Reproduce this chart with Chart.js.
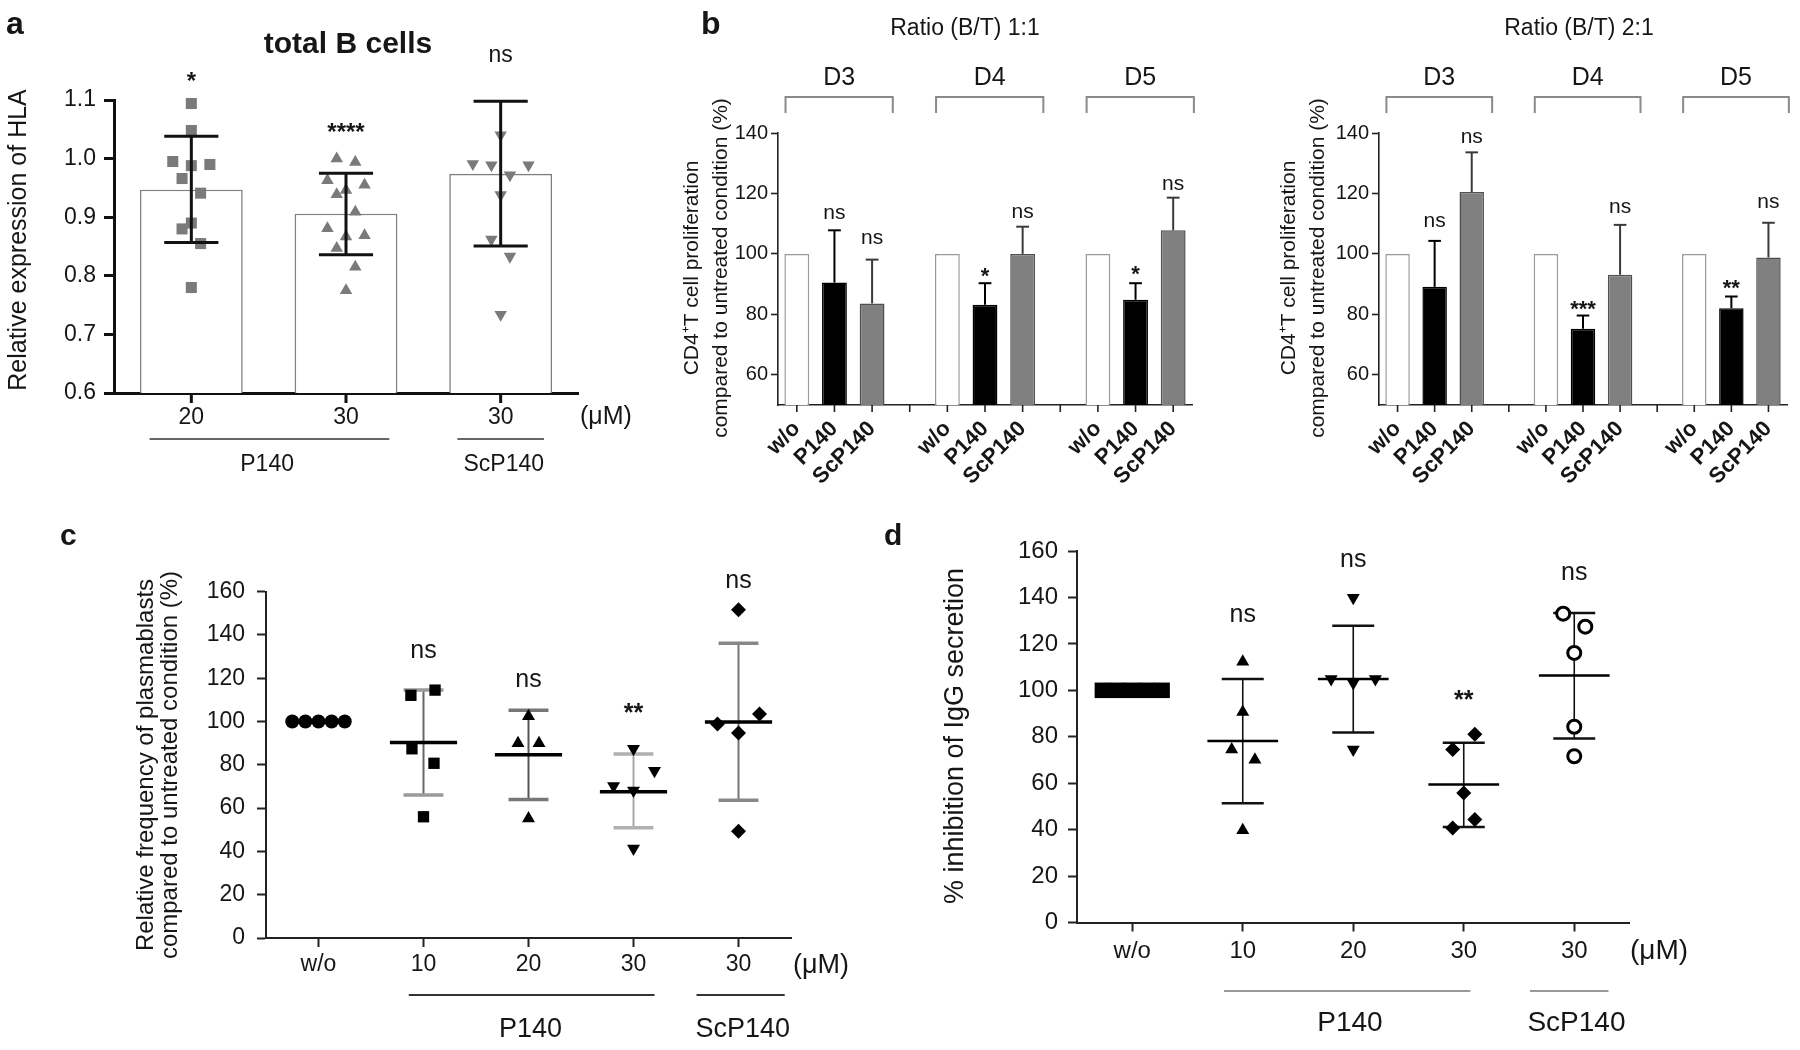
<!DOCTYPE html>
<html>
<head>
<meta charset="utf-8">
<script src="https://cdn.jsdelivr.net/npm/chart.js@4.4.1/dist/chart.umd.min.js"></script>
<style>
  html, body { margin: 0; padding: 0; background: #fff; }
  body { width: 1800px; height: 1050px; position: relative; overflow: hidden; }
  canvas { position: absolute; }
</style>
</head>
<body>
<canvas id="chartA" width="640" height="500" style="left:0;top:0"></canvas>
<canvas id="chartB1" width="580" height="500" style="left:640px;top:0"></canvas>
<canvas id="chartB2" width="580" height="500" style="left:1220px;top:0"></canvas>
<canvas id="chartC" width="870" height="540" style="left:0;top:510px"></canvas>
<canvas id="chartD" width="930" height="540" style="left:870px;top:510px"></canvas>
<script>
const FONT = '"Liberation Sans", Arial, Helvetica, sans-serif';
const INK = '#161616';

// ---------- panel a : HLA expression on total B cells ----------
const aDoses = ['20', '30', '30'];
const aMeans = [0.947, 0.906, 0.974];
const aSdLow = [0.857, 0.836, 0.851];
const aSdHigh = [1.038, 0.975, 1.098];
const aSig = ['*', '****', 'ns'];
const aSigY = [1.119, 1.031, 1.165];
const aYTicks = [0.6, 0.7, 0.8, 0.9, 1.0, 1.1];
const aP20 = [1.094, 1.048, 0.995, 0.988, 0.990, 0.966, 0.941, 0.890, 0.880, 0.855, 0.780];
const aP20Spread = [0, 0, -0.12, 0, 0.12, -0.06, 0.06, 0, -0.06, 0.06, 0];
const aP30 = [1.000, 0.994, 0.963, 0.955, 0.946, 0.939, 0.909, 0.881, 0.869, 0.867, 0.847, 0.815, 0.775];
const aP30Spread = [-0.06, 0.06, -0.12, 0.12, 0, -0.06, 0.06, -0.12, 0.12, 0, -0.06, 0.06, 0];
const aSc30 = [1.128, 1.128, 1.128, 1.040, 0.991, 0.989, 0.989, 0.972, 0.938, 0.862, 0.833, 0.734];
const aSc30Spread = [-0.12, 0, 0.12, 0, -0.18, -0.06, 0.18, 0.06, 0, -0.06, 0.06, 0];

// ---------- panel b : CD4+ T cell proliferation ----------
const bDays = ['D3', 'D4', 'D5'];
const bTreat = ['w/o', 'P140', 'ScP140'];
const bYTicks = [60, 80, 100, 120, 140];
const bUntreated = [100, 100, 100];
// ratio 1:1
const b1P140 = [90.5, 83.2, 84.8];
const b1P140Sd = [107.8, 90.3, 90.3];
const b1ScP = [83.6, 100.0, 107.8];
const b1ScPSd = [98.1, 109.0, 118.6];
const b1P140Sig = ['ns', '*', '*'];
const b1P140SigY = [111.4, 90.5, 91.1];
const b1ScPSig = ['ns', 'ns', 'ns'];
const b1ScPSigY = [103.4, 111.8, 121.3];
// ratio 2:1
const b2P140 = [89.1, 75.2, 82.0];
const b2P140Sd = [104.3, 79.6, 85.9];
const b2ScP = [120.5, 93.1, 98.8];
const b2ScPSd = [133.6, 109.6, 110.3];
const b2P140Sig = ['ns', '***', '**'];
const b2P140SigY = [108.9, 79.6, 86.3];
const b2ScPSig = ['ns', 'ns', 'ns'];
const b2ScPSigY = [136.7, 113.4, 115.1];

// ---------- panels c and d : shared dose axis ----------
const cdDoses = ['w/o', '10', '20', '30', '30'];
const cdYTicks = [0, 20, 40, 60, 80, 100, 120, 140, 160];

// panel c : plasmablast frequency
const cWo = [100, 100, 100, 100, 100];
const cWoSpread = [-0.25, -0.125, 0, 0.125, 0.25];
const cP10 = [112.1, 114.5, 87.4, 80.7, 56.0];
const cP10Spread = [-0.12, 0.11, -0.11, 0.1, 0];
const cP20 = [102.4, 90.0, 90.0, 55.2];
const cP20Spread = [0, -0.1, 0.1, 0];
const cP30 = [87.4, 77.2, 70.2, 68.1, 41.3];
const cP30Spread = [0, 0.2, -0.19, 0, 0];
const cSc30 = [151.6, 103.5, 98.8, 94.7, 49.3];
const cSc30Spread = [0, 0.2, -0.2, 0, 0];
const cMean = [90.3, 84.6, 67.6, 99.8];
const cSdLow = [66.0, 64.0, 50.9, 63.6];
const cSdHigh = [114.5, 105.2, 85.0, 136.1];
const cSig = ['ns', 'ns', '**', 'ns'];
const cSigY = [129.5, 116.0, 100.3, 161.6];

// panel d : IgG secretion
const dWo = [100, 100, 100, 100, 100];
const dWoSpread = [-0.27, -0.135, 0, 0.135, 0.27];
const dP10 = [112.3, 90.7, 74.5, 70.1, 39.7];
const dP10Spread = [0, 0, -0.1, 0.11, 0];
const dP20 = [139.9, 104.9, 103.1, 104.9, 74.5];
const dP20Spread = [0, -0.2, 0, 0.2, 0];
const dP30 = [81.1, 74.5, 55.8, 44.4, 40.7];
const dP30Spread = [0.1, -0.1, 0, 0.1, -0.1];
const dSc30 = [133.0, 127.4, 116.1, 84.3, 71.6];
const dSc30Spread = [-0.1, 0.1, 0, 0, 0];
const dMean = [78.2, 104.9, 59.4, 106.4];
const dSdLow = [51.4, 81.8, 41.1, 79.3];
const dSdHigh = [104.9, 127.8, 77.4, 133.3];
const dSig = ['ns', 'ns', '**', 'ns'];
const dSigY = [129.3, 153.1, 92.4, 147.5];

// ---------- drawing helpers ----------
const decorSpecs = {};

function drawStats(chart, s) {
  const ctx = chart.ctx, x = chart.scales.x, y = chart.scales.y;
  ctx.save();
  ctx.lineCap = 'butt';
  (s.errs || []).forEach(e => {
    const cx = x.getPixelForValue(e.x);
    const hw = x.getPixelForValue(e.x + e.cap) - cx;
    const top = y.getPixelForValue(e.hi), bot = y.getPixelForValue(e.lo);
    ctx.strokeStyle = e.color; ctx.lineWidth = e.width;
    ctx.beginPath(); ctx.moveTo(cx, bot); ctx.lineTo(cx, top); ctx.stroke();
    ctx.strokeStyle = e.capColor || e.color; ctx.lineWidth = e.capWidth || e.width;
    ctx.beginPath();
    ctx.moveTo(cx - hw, top); ctx.lineTo(cx + hw, top);
    if (!e.oneSided) { ctx.moveTo(cx - hw, bot); ctx.lineTo(cx + hw, bot); }
    ctx.stroke();
  });
  (s.means || []).forEach(m => {
    const cx = x.getPixelForValue(m.x);
    const hw = x.getPixelForValue(m.x + m.half) - cx;
    const py = y.getPixelForValue(m.y);
    ctx.strokeStyle = m.color; ctx.lineWidth = m.width;
    ctx.beginPath(); ctx.moveTo(cx - hw, py); ctx.lineTo(cx + hw, py); ctx.stroke();
  });
  ctx.restore();
}

function drawLabels(chart, s) {
  const ctx = chart.ctx, x = chart.scales.x, y = chart.scales.y;
  ctx.save();
  if (s.xMarks) {
    // tick marks under each x tick (bar charts shift their own grid ticks)
    ctx.strokeStyle = s.xMarks.color; ctx.lineWidth = s.xMarks.width;
    ctx.beginPath();
    x.ticks.forEach(t => {
      const px = x.getPixelForValue(t.value);
      ctx.moveTo(px, x.top); ctx.lineTo(px, x.top + s.xMarks.len);
    });
    ctx.stroke();
  }
  (s.paths || []).forEach(p => {
    ctx.strokeStyle = p.color; ctx.lineWidth = p.width;
    ctx.beginPath();
    p.pts.forEach((pt, i) => {
      const px = x.getPixelForValue(pt[0]);
      if (i) ctx.lineTo(px, pt[1]); else ctx.moveTo(px, pt[1]);
    });
    ctx.stroke();
  });
  (s.texts || []).forEach(t => {
    const px = t.xv !== undefined ? x.getPixelForValue(t.xv) : t.x;
    const py = t.yv !== undefined ? y.getPixelForValue(t.yv) : t.y;
    ctx.save();
    ctx.font = t.font; ctx.fillStyle = t.color || INK;
    ctx.textAlign = t.align || 'center';
    ctx.textBaseline = t.base || 'alphabetic';
    ctx.translate(px, py);
    if (t.rot) ctx.rotate(t.rot * Math.PI / 180);
    ctx.fillText(t.text, 0, 0);
    ctx.restore();
  });
  ctx.restore();
}

Chart.register({
  id: 'decor',
  beforeDatasetsDraw(chart) { const s = decorSpecs[chart.canvas.id]; if (s && s.under) drawStats(chart, s); },
  afterDatasetsDraw(chart) { const s = decorSpecs[chart.canvas.id]; if (s && !s.under) drawStats(chart, s); },
  afterDraw(chart) { const s = decorSpecs[chart.canvas.id]; if (s) drawLabels(chart, s); }
});

function f(size, weight) { return (weight ? weight + ' ' : '') + size + 'px ' + FONT; }

function pts(center, vals, spread) {
  return vals.map((v, i) => ({ x: center + spread[i], y: v }));
}

// common axis setup; the chart area is pinned with padding + fixed axis sizes
function axes(o) {
  return {
    x: {
      type: 'linear', min: o.xmin, max: o.xmax, offset: false,
      afterBuildTicks: s => { s.ticks = o.xticks.map(v => ({ value: v })); },
      afterFit: s => { s.height = o.xh; s.paddingLeft = 0; s.paddingRight = 0; },
      ticks: {
        autoSkip: false, color: INK, padding: o.xpad,
        font: { family: FONT, size: o.xfont, weight: o.xweight || 'normal' },
        minRotation: o.xrot || 0, maxRotation: o.xrot || 0,
        callback: (v, i) => o.xlabels[i]
      },
      grid: {
        display: !o.ownXMarks, offset: false, drawOnChartArea: false, drawTicks: true, tickLength: o.tick,
        tickWidth: o.axisW, tickColor: o.axisC
      },
      border: { display: true, color: o.axisC, width: o.axisW }
    },
    y: {
      type: 'linear', min: o.ymin, max: o.ymax,
      afterBuildTicks: s => { s.ticks = o.yticks.map(v => ({ value: v })); },
      afterFit: s => { s.width = o.yw; s.paddingTop = 0; s.paddingBottom = 0; },
      ticks: {
        color: INK, padding: o.ypad,
        font: { family: FONT, size: o.yfont },
        callback: o.yfmt || (v => String(v))
      },
      grid: { display: true, offset: false, drawOnChartArea: false, drawTicks: true, tickLength: o.tick, tickWidth: o.axisW, tickColor: o.axisC },
      border: { display: true, color: o.axisC, width: o.axisW }
    }
  };
}

function baseOpts(o) {
  return {
    responsive: false, animation: false, devicePixelRatio: 1,
    layout: { padding: { top: o.top, right: o.right, bottom: 0, left: 0 } },
    plugins: { legend: { display: false }, tooltip: { enabled: false }, title: { display: false } },
    scales: axes(o)
  };
}

function scatterSet(data, style, radius, extra) {
  return Object.assign({
    type: 'scatter', data: data, pointStyle: style, pointRadius: radius,
    backgroundColor: '#000', borderColor: '#000', borderWidth: 0, clip: false, order: 1
  }, extra || {});
}

// ---------- chart a ----------
decorSpecs.chartA = {
  under: false,
  xMarks: { len: 10, width: 3, color: '#111' },
  errs: aMeans.map((m, i) => ({ x: i, lo: aSdLow[i], hi: aSdHigh[i], cap: 0.175, color: '#111', width: 3 })),
  paths: [
    { color: '#666', width: 2, pts: [[-0.27, 439], [1.28, 439]] },
    { color: '#666', width: 2, pts: [[1.72, 439], [2.28, 439]] }
  ],
  texts: [
    { text: 'a', x: 6, y: 34, font: f(32, 'bold'), align: 'left' },
    { text: 'total B cells', x: 348, y: 53, font: f(30, 'bold') },
    { text: 'Relative expression of HLA', x: 19, y: 240, rot: -90, base: 'middle', font: f(25) },
    { text: '(\u03bcM)', x: 580, y: 417, align: 'left', base: 'middle', font: f(25) },
    { text: 'P140', xv: 0.49, y: 465, base: 'middle', font: f(23) },
    { text: 'ScP140', xv: 2.02, y: 465, base: 'middle', font: f(23) }
  ].concat(aSig.map((t, i) => ({ text: t, xv: i, yv: aSigY[i], font: t === 'ns' ? f(23) : f(24, 'bold') })))
};

new Chart(document.getElementById('chartA'), {
  type: 'bar',
  data: {
    datasets: [
      scatterSet(pts(0, aP20, aP20Spread), 'rect', 7.8, { backgroundColor: '#7a7a7a' }),
      scatterSet(pts(1, aP30, aP30Spread), 'triangle', 7.2, { backgroundColor: '#7a7a7a' }),
      scatterSet(pts(2, aSc30, aSc30Spread), 'triangle', 7.2, { backgroundColor: '#7a7a7a', pointRotation: 180 }),
      {
        type: 'bar', data: aMeans.map((v, i) => ({ x: i, y: v })),
        backgroundColor: '#fff', borderColor: '#808080', borderWidth: 1.6,
        barPercentage: 0.665, categoryPercentage: 1, order: 10
      }
    ]
  },
  options: baseOpts({
    top: 100, right: 62, xh: 107, yw: 114, ownXMarks: true,
    xmin: -0.5, xmax: 2.5, xticks: [0, 1, 2], xlabels: aDoses, xfont: 23, xpad: 1,
    ymin: 0.6, ymax: 1.1, yticks: aYTicks, yfont: 23, ypad: 8, yfmt: v => v.toFixed(1),
    tick: 10, axisW: 3, axisC: '#111'
  })
});

// ---------- charts b ----------
function makeB(id, title, p, pSd, s, sSd, pSig, pSigY, sSig, sSigY, lay) {
  const slots = [];
  const labels = [];
  bDays.forEach((d, k) => {
    bTreat.forEach(t => labels.push(t));
    if (k < bDays.length - 1) labels.push('');
  });
  const barX = [], barY = [], fill = [], edge = [];
  bDays.forEach((d, k) => {
    const base = k * 4;
    [bUntreated[k], p[k], s[k]].forEach((v, j) => {
      barX.push(base + j); barY.push(v);
      fill.push(['#ffffff', '#000000', '#808080'][j]);
      edge.push(['#9a9a9a', '#000000', '#505050'][j]);
    });
  });
  for (let i = 0; i < labels.length; i++) slots.push(i);

  const errs = [], texts = [], paths = [];
  bDays.forEach((d, k) => {
    const base = k * 4;
    errs.push({ x: base + 1, lo: p[k], hi: pSd[k], cap: 0.17, color: '#000', width: 2, oneSided: true });
    errs.push({ x: base + 2, lo: s[k], hi: sSd[k], cap: 0.17, color: '#3a3a3a', width: 2, oneSided: true });
    texts.push({ text: pSig[k], xv: base + 1, yv: pSigY[k], font: pSig[k] === 'ns' ? f(21) : f(22, 'bold') });
    texts.push({ text: sSig[k], xv: base + 2, yv: sSigY[k], font: sSig[k] === 'ns' ? f(21) : f(22, 'bold') });
    const l = base - 0.3, r = base + 2.55;
    paths.push({ color: '#8a8a8a', width: 2, pts: [[l, 113], [l, 97], [r, 97], [r, 113]] });
    texts.push({ text: d, xv: (l + r) / 2, y: 85, font: f(25) });
  });
  texts.push({ text: title, x: lay.titleX, y: 35, font: f(23) });
  texts.push({ text: 'CD4\u207AT cell proliferation', x: lay.t1, y: 268, rot: -90, base: 'middle', font: f(21) });
  texts.push({ text: 'compared to untreated condition (%)', x: lay.t2, y: 268, rot: -90, base: 'middle', font: f(21) });
  if (lay.letter) texts.push({ text: 'b', x: 61, y: 34, font: f(32, 'bold'), align: 'left' });
  decorSpecs[id] = { under: false, xMarks: { len: 7, width: 1.6, color: '#222' }, errs: errs, texts: texts, paths: paths };

  new Chart(document.getElementById(id), {
    type: 'bar',
    data: {
      datasets: [{
        data: barX.map((xv, i) => ({ x: xv, y: barY[i] })),
        backgroundColor: fill, borderColor: edge, borderWidth: 1.5,
        barPercentage: 0.66, categoryPercentage: 1
      }]
    },
    options: baseOpts({
      top: 133, right: lay.right, xh: 95, yw: lay.yw, ownXMarks: true,
      xmin: -0.5, xmax: 10.5, xticks: slots, xlabels: labels, xfont: 22, xweight: 'bold', xpad: 4, xrot: 45,
      ymin: 50, ymax: 140, yticks: bYTicks, yfont: 20, ypad: 3,
      tick: 7, axisW: 1.6, axisC: '#222'
    })
  });
}

makeB('chartB1', 'Ratio (B/T) 1:1', b1P140, b1P140Sd, b1ScP, b1ScPSd, b1P140Sig, b1P140SigY, b1ScPSig, b1ScPSigY,
  { right: 28, yw: 138, titleX: 325, t1: 52, t2: 81, letter: true });
makeB('chartB2', 'Ratio (B/T) 2:1', b2P140, b2P140Sd, b2ScP, b2ScPSd, b2P140Sig, b2P140SigY, b2ScPSig, b2ScPSigY,
  { right: 13, yw: 159, titleX: 359, t1: 69, t2: 98, letter: false });

// ---------- charts c and d ----------
function makeCD(id, sets, mean, lo, hi, sig, sigY, lay) {
  const errs = [], means = [], texts = [];
  mean.forEach((m, i) => {
    errs.push({ x: i + 1, lo: lo[i], hi: hi[i], cap: 0.19, color: lay.errC[i], capColor: lay.capC[i], width: lay.errW, capWidth: lay.capW });
    means.push({ x: i + 1, y: m, half: 0.32, color: '#000', width: lay.meanW });
    texts.push({ text: sig[i], xv: i + 1, yv: sigY[i], font: sig[i] === 'ns' ? f(25) : f(25, 'bold') });
  });
  decorSpecs[id] = {
    under: true, errs: errs, means: means,
    paths: [
      { color: lay.lineC, width: 2, pts: [[lay.p140[0], lay.lineY], [lay.p140[1], lay.lineY]] },
      { color: lay.lineC, width: 2, pts: [[lay.scp[0], lay.lineY], [lay.scp[1], lay.lineY]] }
    ],
    texts: texts.concat(lay.texts)
  };
  new Chart(document.getElementById(id), {
    type: 'scatter',
    data: { datasets: sets },
    options: baseOpts({
      top: lay.top, right: lay.right, xh: lay.xh, yw: lay.yw,
      xmin: -0.5, xmax: 4.5, xticks: [0, 1, 2, 3, 4], xlabels: cdDoses, xfont: lay.tickFont, xpad: lay.xpad,
      ymin: 0, ymax: 160, yticks: cdYTicks, yfont: lay.tickFont, ypad: lay.ypad,
      tick: 9, axisW: 2, axisC: '#222'
    })
  });
}

makeCD('chartC', [
  scatterSet(pts(0, cWo, cWoSpread), 'circle', 7),
  scatterSet(pts(1, cP10, cP10Spread), 'rect', 8),
  scatterSet(pts(2, cP20, cP20Spread), 'triangle', 7.5),
  scatterSet(pts(3, cP30, cP30Spread), 'triangle', 7.5, { pointRotation: 180 }),
  scatterSet(pts(4, cSc30, cSc30Spread), 'rectRot', 7.5)
], cMean, cSdLow, cSdHigh, cSig, cSigY, {
  top: 81.6, right: 79, xh: 112, yw: 266, tickFont: 23, xpad: 4, ypad: 12,
  errC: ['#666', '#555', '#a8a8a8', '#777'], capC: ['#9a9a9a', '#777', '#b0b0b0', '#888'],
  errW: 2, capW: 3.5, meanW: 3.5,
  lineC: '#333', lineY: 485, p140: [0.86, 3.2], scp: [3.6, 4.44],
  texts: [
    { text: 'c', x: 60, y: 35, font: f(30, 'bold'), align: 'left' },
    { text: 'Relative frequency of plasmablasts', x: 146, y: 255, rot: -90, base: 'middle', font: f(24) },
    { text: 'compared to untreated condition (%)', x: 170, y: 255, rot: -90, base: 'middle', font: f(24) },
    { text: '(\u03bcM)', x: 793, y: 456, align: 'left', base: 'middle', font: f(27) },
    { text: 'P140', xv: 2.02, y: 520, base: 'middle', font: f(27) },
    { text: 'ScP140', xv: 4.04, y: 520, base: 'middle', font: f(27) }
  ]
});

makeCD('chartD', [
  scatterSet(pts(0, dWo, dWoSpread), 'rect', 11),
  scatterSet(pts(1, dP10, dP10Spread), 'triangle', 7.5),
  scatterSet(pts(2, dP20, dP20Spread), 'triangle', 7.5, { pointRotation: 180 }),
  scatterSet(pts(3, dP30, dP30Spread), 'rectRot', 7.5),
  scatterSet(pts(4, dSc30, dSc30Spread), 'circle', 6.5, { backgroundColor: '#fff', borderWidth: 3 })
], dMean, dSdLow, dSdHigh, dSig, dSigY, {
  top: 41, right: 170.5, xh: 127.5, yw: 207, tickFont: 24, xpad: 5, ypad: 10,
  errC: ['#111', '#111', '#111', '#111'], capC: ['#111', '#111', '#111', '#111'],
  errW: 1.6, capW: 2.5, meanW: 2.5,
  lineC: '#999', lineY: 481, p140: [0.83, 3.06], scp: [3.6, 4.31],
  texts: [
    { text: 'd', x: 14, y: 35, font: f(30, 'bold'), align: 'left' },
    { text: '% inhibition of IgG secretion', x: 86, y: 226, rot: -90, base: 'middle', font: f(27) },
    { text: '(\u03bcM)', x: 760, y: 441, align: 'left', base: 'middle', font: f(28) },
    { text: 'P140', xv: 1.97, y: 513, base: 'middle', font: f(28) },
    { text: 'ScP140', xv: 4.02, y: 513, base: 'middle', font: f(28) }
  ]
});
</script>
</body>
</html>
